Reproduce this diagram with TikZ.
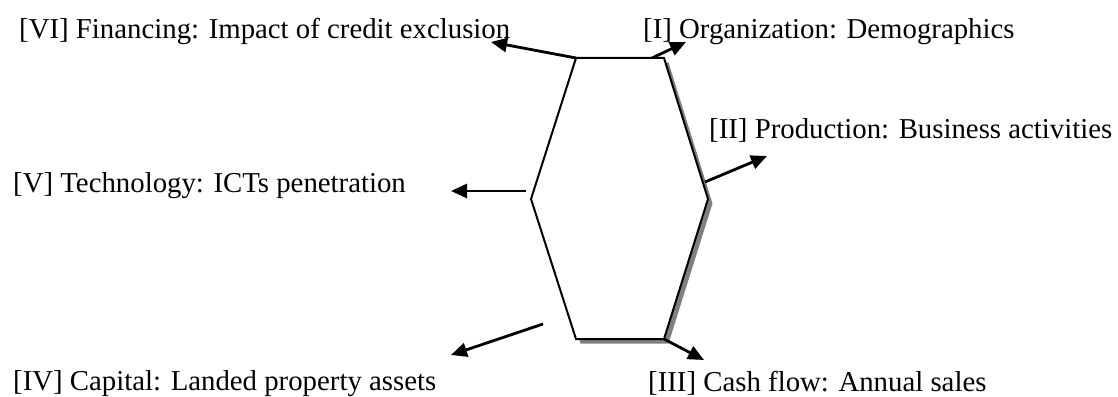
\documentclass[tikz,border=0pt]{standalone}
\usepackage{fontspec}
\setmainfont{Liberation Serif}
\usetikzlibrary{arrows.meta,calc}
\begin{document}
\begin{tikzpicture}[x=1pt,y=-1pt,
  lbl/.style={anchor=base west, inner sep=0pt, font=\fontsize{28.8}{34}\selectfont},
  arr/.style={line width=2.8pt, -{Triangle[length=16pt,width=14pt]}},
  hexline/.style={line width=2pt, line join=miter},
  shadow/.style={fill=black!50}]
\useasboundingbox (0,0) rectangle (1118,396);
% hexagon vertices
\coordinate (tl) at (576,58);
\coordinate (tr) at (664,58);
\coordinate (r)  at (708,199);
\coordinate (br) at (664,339);
\coordinate (bl) at (576,339);
\coordinate (l)  at (531,199);
% shadow
\fill[shadow] ($(tl)+(4.5,4.5)$) -- ($(tr)+(4.5,4.5)$) -- ($(r)+(4.5,4.5)$) -- ($(br)+(4.5,4.5)$) -- ($(bl)+(4.5,4.5)$) -- ($(l)+(4.5,4.5)$) -- cycle;
\draw[hexline, fill=white] (tl) -- (tr) -- (r) -- (br) -- (bl) -- (l) -- cycle;
% labels
\node[lbl] (t6) at (19,39)  {[VI] Financing: Impact of credit exclusion};
\node[lbl] (t1) at (643,38) {[I] Organization: Demographics};
\node[lbl] (t2) at (709,138) {[II] Production: Business activities};
\node[lbl] (t5) at (13,192) {[V] Technology: ICTs penetration};
\node[lbl] (t4) at (13,390) {[IV] Capital: Landed property assets};
\node[lbl] (t3) at (648,391) {[III] Cash flow: Annual sales};
% arrow endpoints
\coordinate (s1) at (652,58);
\coordinate (e1) at (686,42);
\coordinate (e6) at (491,42);
\coordinate (s2) at (705,182);
\coordinate (e2) at (767,156);
\coordinate (s5) at (526,191);
\coordinate (e5) at (451,191);
\coordinate (s4) at (543,324);
\coordinate (e4) at (451,355);
\coordinate (e3) at (704,360);
\draw[arr] (tl) -- (e6);
\draw[arr] (s1) -- (e1);
\draw[arr] (s2) -- (e2);
\draw[arr] (s5) -- (e5);
\draw[arr] (s4) -- (e4);
\draw[arr] (br) -- (e3);
\end{tikzpicture}
\end{document}
